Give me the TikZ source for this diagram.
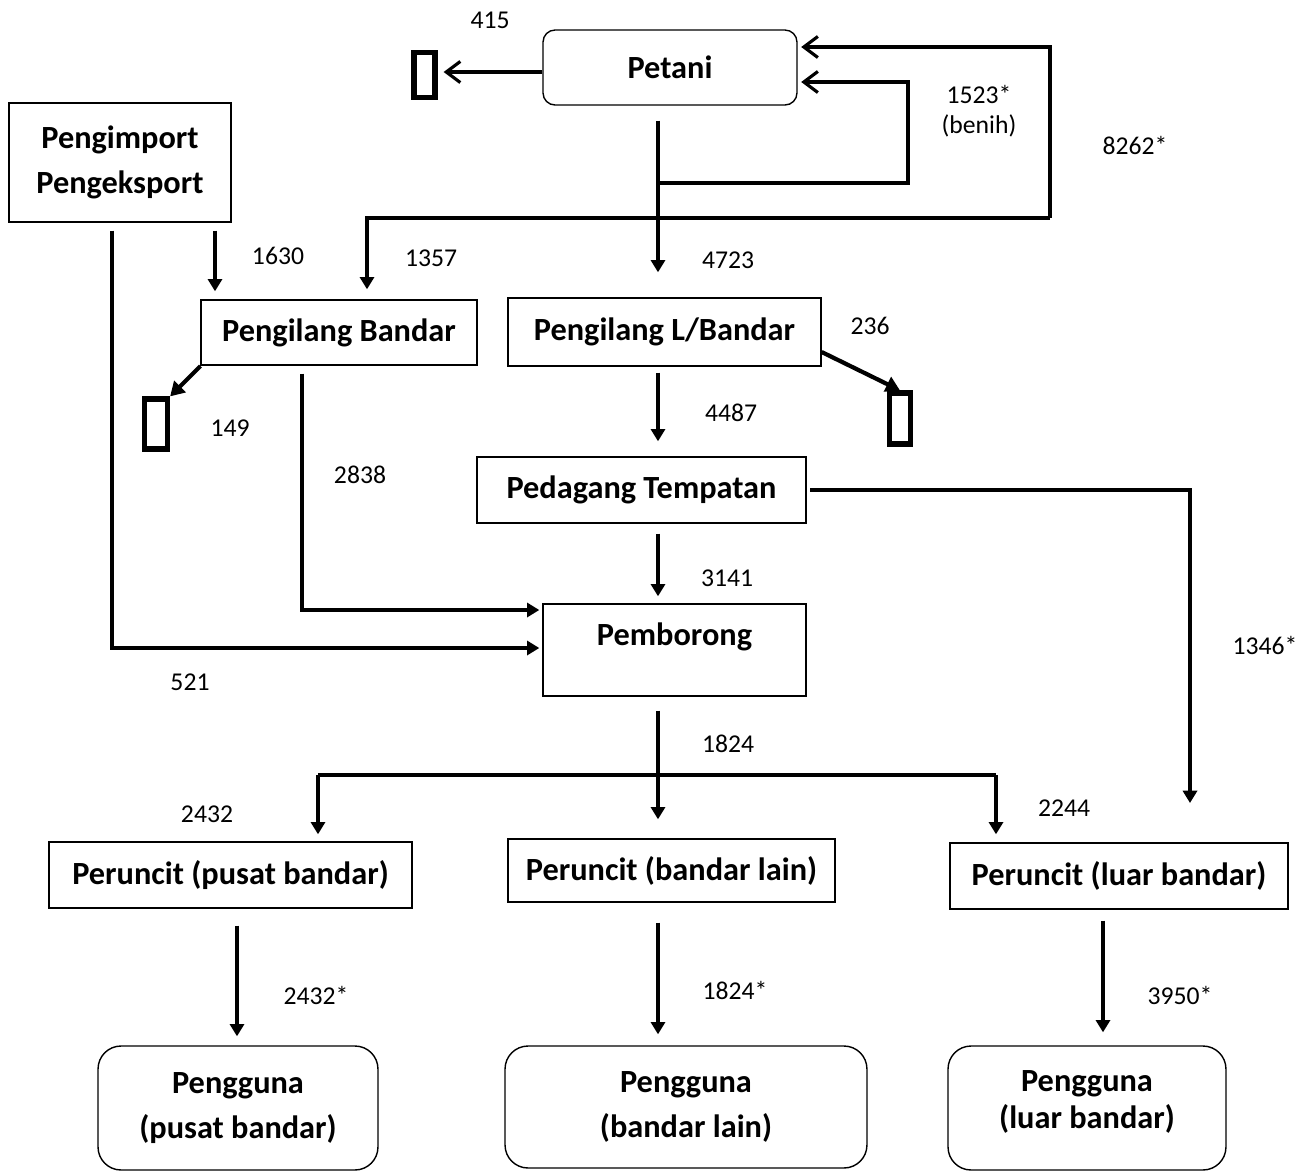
\documentclass[tikz,border=0pt]{standalone}
\usepackage{fontspec}
\setmainfont{Carlito}
\usetikzlibrary{arrows.meta}
\begin{document}
\begin{tikzpicture}[x=0.02cm,y=-0.02cm,
  box/.style={draw,line width=0.8pt,inner sep=0pt,align=center,
    font=\bfseries\fontsize{18.4}{25.5}\selectfont},
  rbox/.style={box,rounded corners=0.24cm},
  ubox/.style={box,rounded corners=0.46cm},
  sink/.style={draw,line width=3pt,inner sep=0pt},
  num/.style={font=\fontsize{14.6}{17}\selectfont},
  arr/.style={-{Triangle[length=7pt,width=8pt]},line width=1.8pt},
  open/.style={-{Straight Barb[length=8pt,width=12pt]},line width=1.8pt},
  fat/.style={-{Triangle[length=8pt,width=9pt]},line width=2.4pt}]
\useasboundingbox (0,0) rectangle (1313,1174);

% boxes
\node[rbox,minimum width=5.08cm,minimum height=1.5cm] (petani) at (670,67.5) {Petani};
\node[box,minimum width=4.44cm,minimum height=2.38cm] (impor) at (120,162.5) {Pengimport\\Pengeksport};
\node[box,minimum width=5.52cm,minimum height=1.3cm] (pbandar) at (339,332.5) {Pengilang Bandar};
\node[box,minimum width=6.26cm,minimum height=1.36cm] (plbandar) at (664.5,332) {Pengilang L/Bandar};
\node[box,minimum width=6.58cm,minimum height=1.32cm] (pedagang) at (641.5,490) {Pedagang Tempatan};
\node[box,minimum width=5.26cm,minimum height=1.84cm] (pemborong) at (674.5,650) {};
\node[font=\bfseries\fontsize{18.4}{25.5}\selectfont] (tpemborong) at (674.5,637) {Pemborong};
\node[box,minimum width=7.26cm,minimum height=1.32cm] (rpusat) at (230.5,875) {Peruncit (pusat bandar)};
\node[box,minimum width=6.54cm,minimum height=1.26cm] (rlain) at (671.5,870.5) {Peruncit (bandar lain)};
\node[box,minimum width=6.76cm,minimum height=1.32cm] (rluar) at (1119,876) {Peruncit (luar bandar)};
\node[ubox,minimum width=5.6cm,minimum height=2.48cm] (gpusat) at (238,1108) {Pengguna\\(pusat bandar)};
\node[ubox,minimum width=7.24cm,minimum height=2.44cm] (glain) at (686,1107) {Pengguna\\(bandar lain)};
\node[ubox,minimum width=5.56cm,minimum height=2.48cm] (gluar) at (1087,1108) {};
\node[align=center,font=\bfseries\fontsize{18.4}{21.5}\selectfont] (tgluar) at (1087,1102) {Pengguna\\(luar bandar)};

% losses
\node[sink,minimum width=0.42cm,minimum height=0.9cm] (sink1) at (424.5,75) {};
\node[sink,minimum width=0.46cm,minimum height=1.0cm] (sink2) at (156,424) {};
\node[sink,minimum width=0.42cm,minimum height=1.02cm] (sink3) at (900,418.5) {};

% helper points
\coordinate (spine) at (658,0);
\coordinate (j1) at (658,183);
\coordinate (b1) at (908,183);
\coordinate (b2) at (1050,218);
\coordinate (c2) at (367,218);
\coordinate (e1) at (1190,803);
\coordinate (hl) at (318,775);
\coordinate (hr) at (996,775);

% flows
\draw[open,shorten >=0.12cm] (petani.west |- 0,72) -- (sink1.east |- 0,72);
\draw[arr,shorten <=0.3cm,shorten >=0.5cm] (spine |- petani.south) -- (spine |- plbandar.north);
\draw[open,shorten >=2pt] (j1) -- (b1) |- ([yshift=-0.29cm]petani.east);
\draw[open,shorten >=2pt] (b2) |- ([yshift=0.41cm]petani.east);
\draw[arr,shorten >=0.2cm] (b2) -- (c2) -- (c2 |- pbandar.north);
\draw[arr,shorten <=0.16cm,shorten >=0.16cm] (impor.south -| 215,0) -- (pbandar.north -| 215,0);
\draw[arr,shorten >=0.06cm] (impor.south -| 112,0) ++(0,8) -- (112,648) -- (pemborong.west |- 0,648);
\draw[arr,shorten >=0.06cm] (pbandar.south -| 302,0) ++(0,8) -- (302,610) -- (pemborong.west |- 0,610);
\draw[fat] ([shift={(0.08,0.4)}]pbandar.south west) -- (sink2.north east);
\draw[fat] ([yshift=-0.4cm]plbandar.east) -- (sink3.north);
\draw[arr,shorten <=0.12cm,shorten >=0.3cm] (spine |- plbandar.south) -- (spine |- pedagang.north);
\draw[arr,shorten <=0.2cm,shorten >=0.14cm] (spine |- pedagang.south) -- (spine |- pemborong.north);
\draw[arr,shorten <=2pt] (pedagang.east) -| (e1);
\draw[arr,shorten <=0.28cm,shorten >=0.38cm] (spine |- pemborong.south) -- (spine |- rlain.north);
\draw[line width=1.8pt] (hl) -- (hr);
\draw[arr,shorten >=0.14cm] (hl) -- (hl |- rpusat.north);
\draw[arr,shorten >=0.16cm] (hr) -- (hr |- rluar.north);
\draw[arr,shorten <=0.34cm,shorten >=0.18cm] (rpusat.south -| 237,0) -- (gpusat.north -| 237,0);
\draw[arr,shorten <=0.4cm,shorten >=0.22cm] (spine |- rlain.south) -- (spine |- glain.north);
\draw[arr,shorten <=0.22cm,shorten >=0.26cm] (rluar.south -| 1103,0) -- (gluar.north -| 1103,0);

% quantities
\node[num] (n415) at (490,20) {415};
\node[num,align=center] (n1523) at (979,111) {1523*\\(benih)};
\node[num] (n8262) at (1135,145) {8262*};
\node[num] (n1630) at (278,256) {1630};
\node[num] (n1357) at (431,258) {1357};
\node[num] (n4723) at (728,260) {4723};
\node[num] (n236) at (870,326) {236};
\node[num] (n149) at (230,428) {149};
\node[num] (n4487) at (731,413) {4487};
\node[num] (n2838) at (360,475) {2838};
\node[num] (n3141) at (727,578) {3141};
\node[num] (n1346) at (1265,645) {1346*};
\node[num] (n521) at (190,682) {521};
\node[num] (n1824) at (728,744) {1824};
\node[num] (n2432) at (207,814) {2432};
\node[num] (n2244) at (1064,808) {2244};
\node[num] (n2432s) at (316,995) {2432*};
\node[num] (n1824s) at (735,990) {1824*};
\node[num] (n3950s) at (1180,995) {3950*};
\end{tikzpicture}
\end{document}
